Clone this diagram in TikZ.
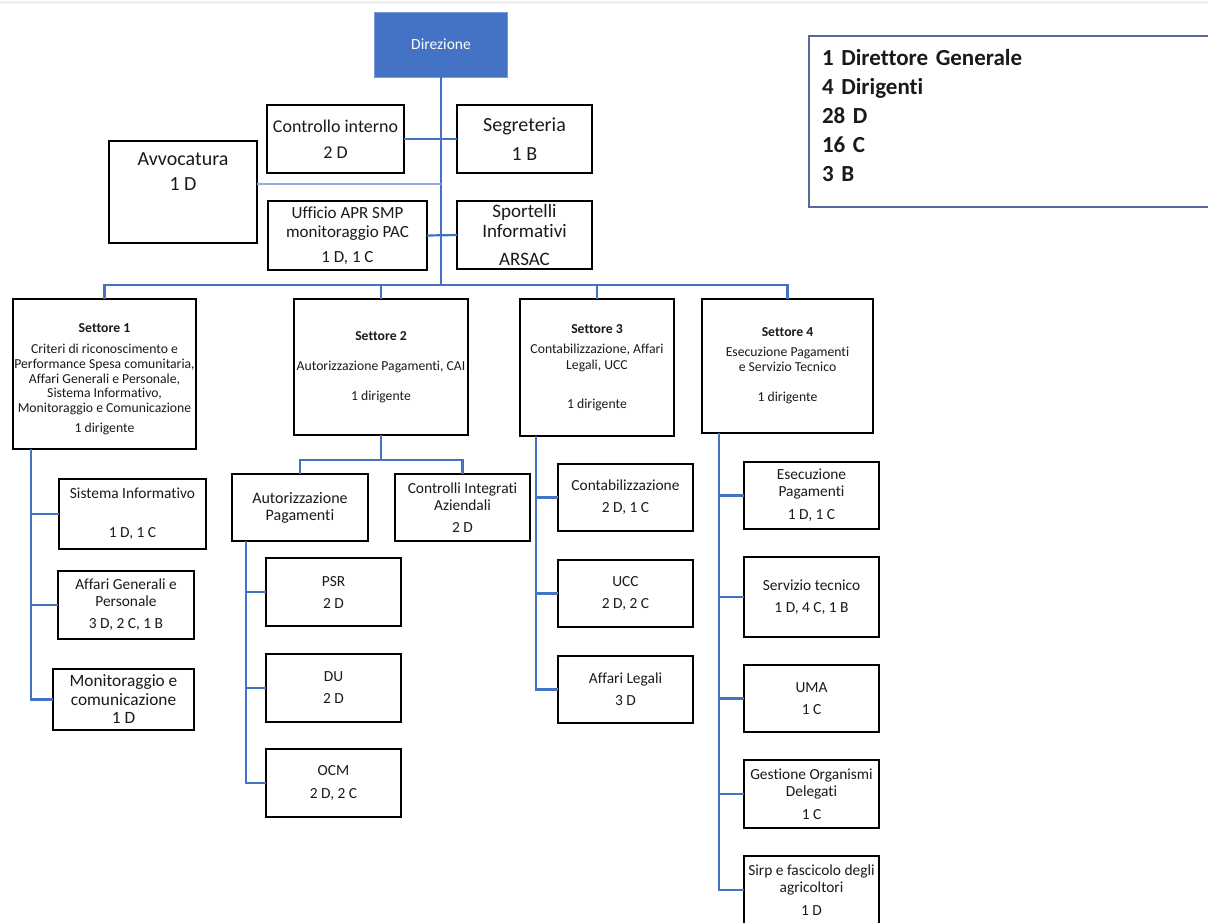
\documentclass[tikz,border=0pt]{standalone}
\usepackage{fontspec}
\setmainfont{Carlito}[Ligatures={NoCommon}]
\usetikzlibrary{calc}
\definecolor{conn}{HTML}{4472C4}
\definecolor{connlt}{HTML}{8FAADC}
\definecolor{dirfill}{HTML}{4472C4}
\definecolor{dirline}{HTML}{7A98D6}
\definecolor{legline}{HTML}{55699C}
\definecolor{txt}{HTML}{1A1A1A}
\newcommand{\myfs}[2]{\fontsize{#1}{#2}\selectfont}
\begin{document}
\begin{tikzpicture}[x=1pt,y=-1pt,
  box/.style={draw=black, line width=1.6pt, fill=white, align=center, inner sep=0pt, outer sep=0pt, text=txt},
  child/.style={box, font=\myfs{15.4}{17}},
  sett/.style={box, font=\myfs{13.7}{15}},
  link/.style={draw=conn, line width=2.2pt},
  linklt/.style={draw=connlt, line width=2.2pt}]
\useasboundingbox (0,0) rectangle (1208,922);
\fill[white] (0,0) rectangle (1208,922);
\draw[line width=3pt, black!6] (0,2) -- (1208,2);

% top level
\node[box, fill=dirfill, draw=dirline, line width=1pt, text=white, font=\myfs{15.5}{18},
  minimum width=133pt, minimum height=65pt] (dir) at (441,44.5) {Direzione};
\node[draw=legline, line width=1.5pt, minimum width=406pt, minimum height=171pt, align=left,
  text width=380pt, inner sep=0pt, font=\bfseries\myfs{23}{29}, text=txt] (leg) at (1012,121.5)
  {1 Direttore Generale\\4 Dirigenti\\28 D\\16 C\\3 B\\[-16pt]\mbox{}};

\node[box, font=\myfs{18}{26}, minimum width=137pt, minimum height=68pt] (ctrl) at (335.5,139) {Controllo interno\\2 D};
\node[box, font=\myfs{20}{29}, minimum width=135pt, minimum height=68pt] (seg) at (524.5,139) {Segreteria\\1 B};
\node[box, font=\myfs{20}{25}, minimum width=148pt, minimum height=102pt] (avv) at (183,192) {Avvocatura\\1 D\\[15pt]\mbox{}};
\node[box, font=\myfs{17}{19}, minimum width=159pt, minimum height=69pt] (uff) at (347.5,235.5) {Ufficio APR SMP\\monitoraggio PAC\\[6pt]1 D, 1 C};
\node[box, font=\myfs{19}{20}, minimum width=135pt, minimum height=68pt] (spo) at (524.5,235) {Sportelli\\Informativi\\[8pt]ARSAC};

% settori
\node[sett, font=\myfs{13.7}{14.75}, minimum width=183pt, minimum height=150pt] (s1) at (104.5,374)
  {\mbox{}\\[4.85pt]\textbf{Settore 1}\\[6pt]Criteri di riconoscimento e\\Performance Spesa comunitaria,\\Affari Generali e Personale,\\Sistema Informativo,\\Monitoraggio e Comunicazione\\[5pt]1 dirigente};
\node[sett, minimum width=174pt, minimum height=136pt] (s2) at (381,367)
  {\textbf{Settore 2}\\[15pt]Autorizzazione Pagamenti, CAI\\[15pt]1 dirigente};
\node[sett, font=\myfs{13.7}{16}, minimum width=154pt, minimum height=137pt] (s3) at (597,367.5)
  {\textbf{Settore 3}\\[4pt]Contabilizzazione, Affari\\Legali, UCC\\[23pt]1 dirigente};
\node[sett, minimum width=171pt, minimum height=134pt] (s4) at (787.5,366)
  {\textbf{Settore 4}\\[5pt]Esecuzione Pagamenti\\e Servizio Tecnico\\[15pt]1 dirigente};

% settore 1 children
\node[child, minimum width=147pt, minimum height=70pt] (sis) at (132.5,514) {Sistema Informativo\\[22pt]1 D, 1 C};
\node[child, minimum width=136pt, minimum height=68pt] (agp) at (126,605) {Affari Generali e\\Personale\\[5pt]3 D, 2 C, 1 B};
\node[child, font=\myfs{17.3}{18.5}, minimum width=141pt, minimum height=61pt] (mon) at (123.5,699.5) {Monitoraggio e\\comunicazione\\1 D};

% settore 2 children
\node[child, font=\myfs{16}{17}, minimum width=136pt, minimum height=67pt] (aut) at (300,507.5) {Autorizzazione\\Pagamenti};
\node[child, minimum width=135pt, minimum height=67pt] (cia) at (462.5,507.5) {Controlli Integrati\\Aziendali\\[5pt]2 D};
\node[child, minimum width=135pt, minimum height=68pt] (psr) at (333.5,592) {PSR\\[5pt]2 D};
\node[child, minimum width=135pt, minimum height=68pt] (du) at (333.5,688) {DU\\[5pt]2 D};
\node[child, minimum width=135pt, minimum height=68pt] (ocm) at (333.5,783) {OCM\\[6pt]2 D, 2 C};

% settore 3 children
\node[child, minimum width=135pt, minimum height=67pt] (con) at (625.5,497.5) {Contabilizzazione\\[5pt]2 D, 1 C};
\node[child, minimum width=135pt, minimum height=67pt] (ucc) at (625.5,593.5) {UCC\\[5pt]2 D, 2 C};
\node[child, minimum width=135pt, minimum height=67pt] (leg3) at (625.5,689.5) {Affari Legali\\[5pt]3 D};

% settore 4 children
\node[child, minimum width=135pt, minimum height=67pt] (ese) at (811.5,495.5) {Esecuzione\\Pagamenti\\[6pt]1 D, 1 C};
\node[child, minimum width=135pt, minimum height=80pt] (ser) at (811.5,597) {Servizio tecnico\\[5pt]1 D, 4 C, 1 B};
\node[child, minimum width=135pt, minimum height=67pt] (uma) at (811.5,698.5) {UMA\\[5pt]1 C};
\node[child, minimum width=135pt, minimum height=68pt] (god) at (811.5,794) {Gestione Organismi\\Delegati\\[6pt]1 C};
\node[child, minimum width=135pt, minimum height=68pt] (sirp) at (811.5,890) {Sirp e fascicolo degli\\agricoltori\\[6pt]1 D};

% connectors
\coordinate (bus) at (441,285);
\draw[link] (dir.south) -- (dir.south |- bus);
\draw[link] (s1.north) -- (s1.north |- bus) -- (s4.north |- bus) -- (s4.north);
\draw[link] (s2.north) -- (s2.north |- bus);
\draw[link] (s3.north) -- (s3.north |- bus);
\draw[link] (ctrl.east) -- (seg.west);
\coordinate (avj) at (441,184);
\draw[linklt] (avv.east |- avj) -- (avj);
\draw[link] (uff.east) -- (spo.west);

\coordinate (s1v) at ($(s1.south west)+(18,0)$);
\draw[link] (s1v) |- (mon.west);
\draw[link] (s1v |- sis.west) -- (sis.west);
\draw[link] (s1v |- agp.west) -- (agp.west);

\coordinate (s2j) at ($(s2.south)+(0,25)$);
\draw[link] (s2.south) -- (s2j);
\draw[link] (aut.north) |- (s2j) -| (cia.north);

\coordinate (autv) at ($(aut.south west)+(14,0)$);
\draw[link] (autv) |- (ocm.west);
\draw[link] (autv |- psr.west) -- (psr.west);
\draw[link] (autv |- du.west) -- (du.west);

\coordinate (s3v) at ($(s3.south west)+(16,0)$);
\draw[link] (s3v) |- (leg3.west);
\draw[link] (s3v |- con.west) -- (con.west);
\draw[link] (s3v |- ucc.west) -- (ucc.west);

\coordinate (s4v) at ($(s4.south west)+(17,0)$);
\draw[link] (s4v) |- (sirp.west);
\draw[link] (s4v |- ese.west) -- (ese.west);
\draw[link] (s4v |- ser.west) -- (ser.west);
\draw[link] (s4v |- uma.west) -- (uma.west);
\draw[link] (s4v |- god.west) -- (god.west);
\end{tikzpicture}
\end{document}
